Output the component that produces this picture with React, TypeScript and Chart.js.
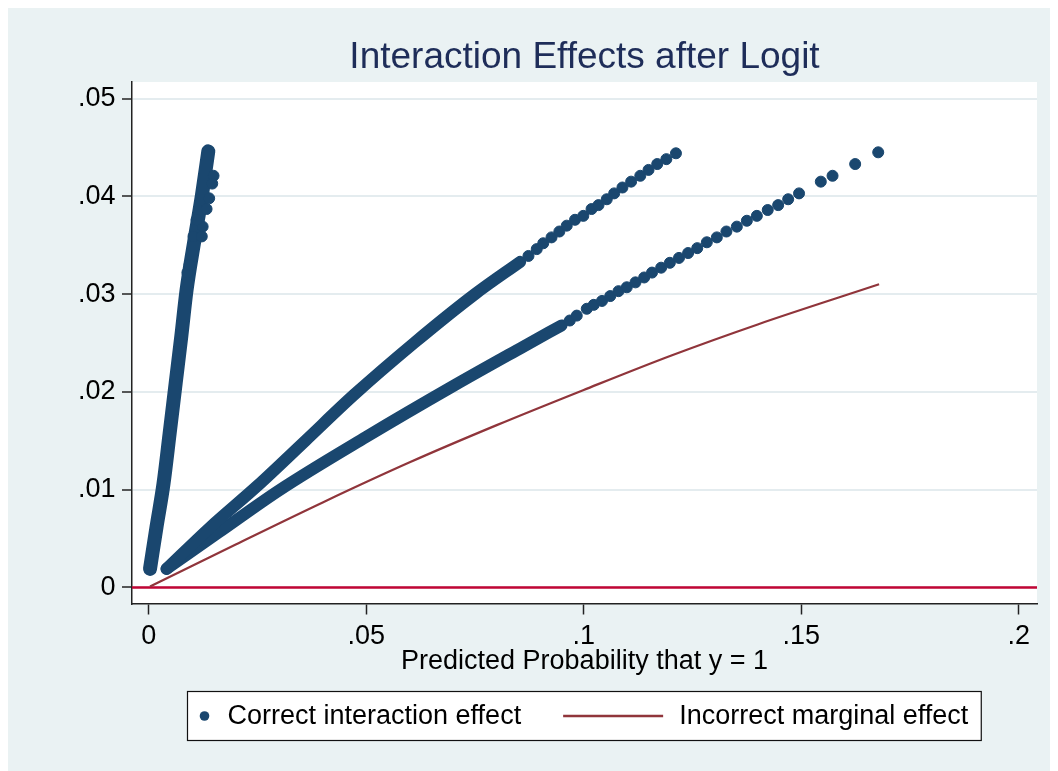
import React, { useEffect, useRef } from 'react';
import { Chart, registerables } from 'chart.js';

Chart.register(...registerables);

// ---------- data ----------
const TITLE = 'Interaction Effects after Logit';
const X_TITLE = 'Predicted Probability that y = 1';
const LEGEND_LABELS = ['Correct interaction effect', 'Incorrect marginal effect'];

const X_MIN = -0.00384;
const X_MAX = 0.2042;
const Y_MIN = -0.00164;
const Y_MAX = 0.05169;
const X_TICKS = [0, 0.05, 0.1, 0.15, 0.2];
const X_TICK_LABELS = ['0', '.05', '.1', '.15', '.2'];
const Y_TICKS = [0, 0.01, 0.02, 0.03, 0.04, 0.05];
const Y_TICK_LABELS = ['0', '.01', '.02', '.03', '.04', '.05'];
const ZERO_LINE_Y = 0;

// dense (fully overlapping) parts of the interaction-effect scatter
const BAND_A_X = [0.0003, 0.0018, 0.0034, 0.0048, 0.0062, 0.0075, 0.0087, 0.0104, 0.0122, 0.0137];
const BAND_A_Y = [0.0019, 0.0062, 0.0106, 0.0157, 0.0209, 0.0257, 0.0304, 0.0352, 0.04, 0.0446];
const BAND_B_X = [0.0041, 0.014, 0.025, 0.036, 0.0472, 0.061, 0.075, 0.0854];
const BAND_B_Y = [0.0019, 0.0061, 0.0104, 0.015, 0.0197, 0.025, 0.03, 0.0333];
const BAND_C_X = [0.0041, 0.016, 0.0302, 0.05, 0.07, 0.086, 0.0949];
const BAND_C_Y = [0.0019, 0.0056, 0.01, 0.0154, 0.0206, 0.0246, 0.0268];

// separate dots of the interaction-effect scatter
const DOTS_X = [
  0.0149, 0.0146, 0.0139, 0.0133, 0.0124, 0.011, 0.0103, 0.0122, 0.0089, 0.0094,
  0.0873, 0.0892, 0.0907, 0.0926, 0.0944, 0.0961, 0.098, 0.0999, 0.1018, 0.1034,
  0.1053, 0.107, 0.1089, 0.1109, 0.113, 0.1149, 0.1169, 0.119, 0.1212,
  0.0968, 0.0984, 0.1007, 0.1023, 0.1042, 0.1061, 0.108, 0.1099, 0.1119, 0.1139,
  0.1157, 0.1178, 0.1198, 0.1219, 0.124, 0.1261, 0.1283, 0.1306, 0.1328, 0.1352,
  0.1375, 0.1398, 0.1423, 0.1447, 0.147, 0.1495, 0.1545, 0.1572, 0.1624, 0.1677,
];
const DOTS_Y = [
  0.0421, 0.0413, 0.0398, 0.0387, 0.0369, 0.0376, 0.0359, 0.0359, 0.0322, 0.033,
  0.0339, 0.0346, 0.0352, 0.0358, 0.0364, 0.037, 0.0376, 0.038, 0.0387, 0.0391,
  0.0397, 0.0403, 0.0409, 0.0415, 0.0421, 0.0427, 0.0433, 0.0438, 0.0444,
  0.0273, 0.0278, 0.0285, 0.0289, 0.0293, 0.0298, 0.0303, 0.0307, 0.0312, 0.0317,
  0.0322, 0.0327, 0.0332, 0.0337, 0.0342, 0.0347, 0.0353, 0.0358, 0.0364, 0.0369,
  0.0375, 0.038, 0.0386, 0.0391, 0.0397, 0.0403, 0.0415, 0.0421, 0.0433, 0.0445,
];

const MARGINAL_X = [0.0003, 0.02, 0.04, 0.06, 0.08, 0.1, 0.12, 0.14, 0.1679];
const MARGINAL_Y = [0.0001, 0.0044, 0.0087, 0.0128, 0.0166, 0.0202, 0.0237, 0.0269, 0.031];

// ---------- styles ----------
const FONT = "'Liberation Sans', Arial, Helvetica, sans-serif";
const NAVY = '#1A476F';
const MAROON = '#90353B';
const CRIMSON = '#C10534';
const BG = '#EAF2F3';
const GRID = '#E4ECEF';
const AXIS = '#222222';
const TITLE_COLOR = '#1E2D59';
const CANVAS_W = 1051;
const CANVAS_H = 764;

const pts = (xs: number[], ys: number[]) => xs.map((x, i) => ({ x, y: ys[i] }));

const bandDataset = (xs: number[], ys: number[], width: number) => ({
  type: 'scatter' as const,
  data: pts(xs, ys),
  showLine: true,
  borderColor: NAVY,
  borderWidth: width,
  borderCapStyle: 'round' as const,
  borderJoinStyle: 'round' as const,
  cubicInterpolationMode: 'monotone' as const,
  tension: 0.4,
  pointRadius: 0,
});

const backgroundPlugin = {
  id: 'stataBackground',
  beforeDraw(chart: any) {
    const { ctx, chartArea } = chart;
    ctx.save();
    ctx.fillStyle = BG;
    ctx.fillRect(0, 0, chart.width, chart.height);
    ctx.fillStyle = '#FFFFFF';
    ctx.fillRect(chartArea.left, chartArea.top, chartArea.right - chartArea.left, chartArea.bottom - chartArea.top);
    ctx.restore();
  },
};

const boxLegendPlugin = {
  id: 'boxLegend',
  afterDraw(chart: any) {
    const { ctx, chartArea } = chart;
    ctx.save();
    ctx.font = `27px ${FONT}`;
    const w1 = ctx.measureText(LEGEND_LABELS[0]).width;
    const w2 = ctx.measureText(LEGEND_LABELS[1]).width;
    const total = 40 + w1 + 42 + 100 + 16 + w2 + 13;
    const cx = (chartArea.left + chartArea.right) / 2;
    const left = Math.round(cx - total / 2) - 0.5;
    const top = Math.round(chartArea.bottom + 87) + 0.5;
    const h = 49;
    const midY = top + h / 2;
    ctx.fillStyle = '#FFFFFF';
    ctx.fillRect(left, top, total, h);
    ctx.strokeStyle = '#111111';
    ctx.lineWidth = 1.2;
    ctx.strokeRect(left, top, total, h);
    ctx.fillStyle = NAVY;
    ctx.beginPath();
    ctx.arc(left + 17, midY, 4.8, 0, Math.PI * 2);
    ctx.fill();
    ctx.fillStyle = '#000000';
    ctx.textBaseline = 'middle';
    ctx.textAlign = 'left';
    ctx.fillText(LEGEND_LABELS[0], left + 40, midY + 1);
    const lx = left + 40 + w1 + 42;
    ctx.strokeStyle = MAROON;
    ctx.lineWidth = 2.6;
    ctx.beginPath();
    ctx.moveTo(lx, midY);
    ctx.lineTo(lx + 100, midY);
    ctx.stroke();
    ctx.fillText(LEGEND_LABELS[1], lx + 116, midY + 1);
    ctx.restore();
  },
};

export default function App() {
  const ref = useRef<HTMLCanvasElement>(null);

  useEffect(() => {
    document.documentElement.style.overflow = 'hidden';
    const canvas = ref.current;
    if (!canvas) return;
    const chart = new Chart(canvas, {
      type: 'scatter',
      data: {
        datasets: [
          {
            type: 'line',
            label: LEGEND_LABELS[1],
            data: pts(MARGINAL_X, MARGINAL_Y),
            borderColor: MAROON,
            borderWidth: 2.2,
            pointRadius: 0,
            cubicInterpolationMode: 'monotone',
            fill: false,
          } as any,
          {
            label: LEGEND_LABELS[0],
            data: pts(DOTS_X, DOTS_Y),
            showLine: false,
            pointRadius: 5.5,
            pointBorderWidth: 1,
            pointBackgroundColor: NAVY,
            pointBorderColor: NAVY,
          },
          bandDataset(BAND_A_X, BAND_A_Y, 14),
          bandDataset(BAND_B_X, BAND_B_Y, 12),
          bandDataset(BAND_C_X, BAND_C_Y, 12),
          {
            type: 'line',
            label: 'zero',
            data: [
              { x: X_MIN, y: ZERO_LINE_Y },
              { x: X_MAX, y: ZERO_LINE_Y },
            ],
            borderColor: CRIMSON,
            borderWidth: 2.6,
            pointRadius: 0,
            fill: false,
          } as any,
        ],
      },
      options: {
        animation: false,
        responsive: false,
        devicePixelRatio: 1,
        events: [],
        layout: { padding: { left: 0, right: 21, top: 0, bottom: 93.5 } },
        plugins: {
          legend: { display: false },
          tooltip: { enabled: false },
          title: {
            display: true,
            text: TITLE,
            color: TITLE_COLOR,
            fullSize: false,
            font: { family: FONT, size: 37, weight: 'normal' as any },
            padding: { top: 28.6, bottom: 2 },
          },
        },
        scales: {
          x: {
            type: 'linear',
            min: X_MIN,
            max: X_MAX,
            afterFit: (scale: any) => {
              scale.height = 74;
            },
            afterBuildTicks: (scale: any) => {
              scale.ticks = X_TICKS.map((v) => ({ value: v }));
            },
            ticks: {
              autoSkip: false,
              maxRotation: 0,
              padding: 6.3,
              color: '#000000',
              font: { family: FONT, size: 27 },
              callback: (_v: any, i: number) => X_TICK_LABELS[i],
            },
            grid: {
              drawOnChartArea: false,
              drawTicks: true,
              tickLength: 11,
              tickColor: AXIS,
              tickWidth: 1.5,
            },
            border: { display: true, color: AXIS, width: 1.5 },
            title: {
              display: true,
              text: X_TITLE,
              color: '#000000',
              font: { family: FONT, size: 27 },
              padding: { top: 0, bottom: 0 },
            },
          },
          y: {
            type: 'linear',
            min: Y_MIN,
            max: Y_MAX,
            afterFit: (scale: any) => {
              scale.width = 125;
            },
            afterBuildTicks: (scale: any) => {
              scale.ticks = Y_TICKS.map((v) => ({ value: v }));
            },
            ticks: {
              autoSkip: false,
              padding: 6.5,
              color: '#000000',
              font: { family: FONT, size: 27 },
              callback: (_v: any, i: number) => Y_TICK_LABELS[i],
            },
            grid: {
              drawOnChartArea: true,
              color: GRID,
              lineWidth: 2,
              drawTicks: true,
              tickLength: 10,
              tickColor: AXIS,
              tickWidth: 1.5,
            },
            border: { display: true, color: AXIS, width: 1.5 },
          },
        },
      },
      plugins: [backgroundPlugin, boxLegendPlugin],
    } as any);
    return () => chart.destroy();
  }, []);

  return (
    <div style={{ position: 'relative', left: -1, top: -1, width: CANVAS_W, height: CANVAS_H }}>
      <canvas ref={ref} width={CANVAS_W} height={CANVAS_H} style={{ display: 'block' }} />
    </div>
  );
}
